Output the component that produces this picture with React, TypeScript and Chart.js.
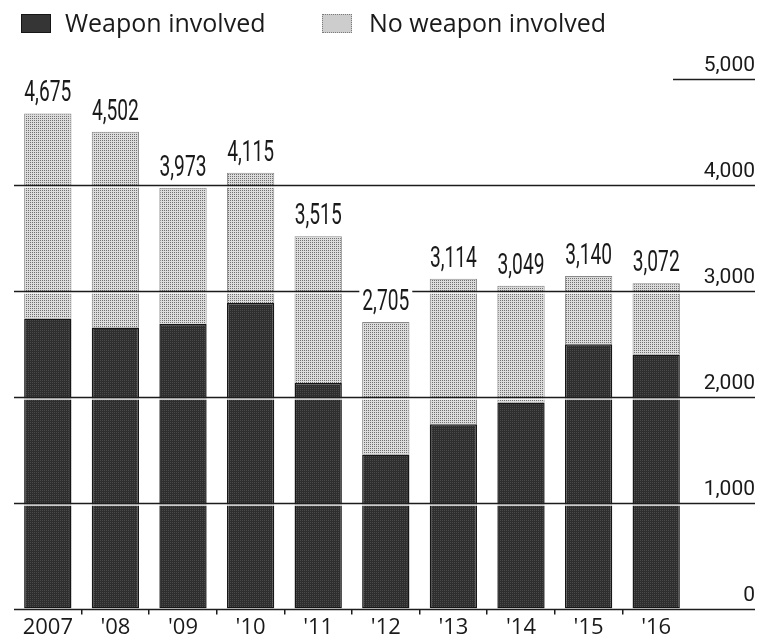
import React, { useEffect, useRef } from 'react';
import { Chart, registerables } from 'chart.js';

Chart.register(...registerables);

const years = ["2007", "'08", "'09", "'10", "'11", "'12", "'13", "'14", "'15", "'16"];
const totals = [4675, 4502, 3973, 4115, 3515, 2705, 3114, 3049, 3140, 3072];
const weaponInvolved = [2740, 2655, 2690, 2885, 2130, 1455, 1740, 1945, 2495, 2400];
const noWeaponInvolved = [1935, 1847, 1283, 1230, 1385, 1250, 1374, 1104, 645, 672];
const yTickValues = [0, 1000, 2000, 3000, 4000, 5000];
const seriesNames = ['Weapon involved', 'No weapon involved'];

function makePattern(base: string, dot: string) {
  const c = document.createElement('canvas');
  c.width = 2;
  c.height = 2;
  const g = c.getContext('2d')!;
  g.fillStyle = base;
  g.fillRect(0, 0, 2, 2);
  g.fillStyle = dot;
  g.fillRect(0, 0, 1, 1);
  return g.createPattern(c, 'repeat') as CanvasPattern;
}

const fmt = (v: number) => v.toLocaleString('en-US');

const overlayPlugin = {
  id: 'overlay',
  afterDatasetsDraw(chart: any) {
    const { ctx, chartArea, scales } = chart;
    const y = scales.y;
    const rightEdge = chart.width - 7;
    const maxV = yTickValues[yTickValues.length - 1];
    ctx.save();
    y.ticks.forEach((t: any) => {
      const py = Math.round(y.getPixelForValue(t.value)) + 0.5;
      let x0 = chartArea.left;
      if (t.value === maxV) x0 = chartArea.right - 17;
      if (t.value !== 0 && t.value !== maxV) {
        ctx.strokeStyle = '#ffffff';
        ctx.lineWidth = 1.6;
        ctx.beginPath();
        ctx.moveTo(chartArea.left, py + 1.5);
        ctx.lineTo(chartArea.right, py + 1.5);
        ctx.stroke();
      }
      ctx.strokeStyle = '#1c1c1c';
      ctx.lineWidth = t.value === 0 ? 1.6 : 1.3;
      ctx.beginPath();
      ctx.moveTo(x0, py);
      ctx.lineTo(rightEdge, py);
      ctx.stroke();
    });

    // total labels
    const meta = chart.getDatasetMeta(1);
    const sx = 0.64;
    ctx.font = '400 30px Roboto';
    ctx.textAlign = 'center';
    ctx.textBaseline = 'alphabetic';
    meta.data.forEach((bar: any, i: number) => {
      const txt = fmt(totals[i]);
      const w = ctx.measureText(txt).width * sx;
      const base = bar.y - 12;
      ctx.fillStyle = '#ffffff';
      ctx.fillRect(bar.x - w / 2 - 3, base - 23, w + 6, 25);
      ctx.save();
      ctx.translate(bar.x, base);
      ctx.scale(sx, 1);
      ctx.fillStyle = '#1a1a1a';
      ctx.fillText(txt, 0, 0);
      ctx.restore();
    });
    ctx.restore();
  },
};

export default function App() {
  const canvasRef = useRef<HTMLCanvasElement | null>(null);

  useEffect(() => {
    const canvas = canvasRef.current!;
    const darkPat = makePattern('#2e2e2e', '#4a4a4a');
    const lightPat = makePattern('#dcdcdc', '#707070');
    const chart = new Chart(canvas, {
      type: 'bar',
      data: {
        labels: years,
        datasets: [
          {
            label: seriesNames[0],
            data: weaponInvolved,
            backgroundColor: darkPat,
            borderColor: '#161616',
            borderWidth: 1.5,
            borderSkipped: false,
            categoryPercentage: 1,
            barPercentage: 0.7,
          },
          {
            label: seriesNames[1],
            data: noWeaponInvolved,
            backgroundColor: lightPat,
            borderColor: '#8a8a8a',
            borderWidth: 1,
            borderSkipped: 'start',
            categoryPercentage: 1,
            barPercentage: 0.7,
          },
        ],
      },
      options: {
        animation: false,
        responsive: true,
        maintainAspectRatio: false,
        layout: { padding: { top: 79, left: 14, right: 7, bottom: 0 } },
        plugins: {
          legend: { display: false },
          tooltip: { enabled: false },
        },
        scales: {
          x: {
            stacked: true,
            offset: true,
            border: { display: false },
            grid: {
              display: true,
              drawOnChartArea: false,
              drawTicks: true,
              tickLength: 6,
              lineWidth: 1.5,
              color: (c: any) =>
                c.index === undefined || c.index === 0 ? 'rgba(0,0,0,0)' : '#1c1c1c',
            },
            ticks: {
              padding: 0,
              color: '#1a1a1a',
              font: { family: '"Open Sans"', size: 22 },
              maxRotation: 0,
              autoSkip: false,
            },
          },
          y: {
            stacked: true,
            position: 'right',
            min: 0,
            max: 5000,
            border: { display: false },
            grid: { display: false, drawTicks: false },
            afterBuildTicks: (scale: any) => {
              scale.ticks = yTickValues.map((v) => ({ value: v }));
            },
            afterFit: (scale: any) => {
              scale.width = 65;
            },
            ticks: {
              crossAlign: 'far',
              labelOffset: -13,
              padding: 0,
              color: '#1a1a1a',
              font: { family: '"Liberation Sans Narrow", Roboto', size: 21 },
              callback: (v: any) => fmt(Number(v)),
            },
          },
        },
      },
      plugins: [overlayPlugin],
    });
    return () => chart.destroy();
  }, []);

  const legendText: React.CSSProperties = {
    position: 'absolute',
    top: 5,
    font: '25px "Open Sans"',
    lineHeight: '34px',
    color: '#1a1a1a',
    whiteSpace: 'nowrap',
  };
  const sq: React.CSSProperties = {
    position: 'absolute',
    top: 14,
    width: 30,
    height: 19,
    boxSizing: 'border-box',
  };

  return (
    <div style={{ position: 'absolute', left: 0, top: 0, width: 762, height: 641, background: '#fff' }}>
      <canvas ref={canvasRef} />
      <div style={{ ...sq, left: 21, background: '#353535', border: '1px solid #161616' }} />
      <div style={{ ...legendText, left: 65 }}>{seriesNames[0]}</div>
      <div style={{ ...sq, left: 322, background: '#cdcdcd', border: '1px dotted #7a7a7a' }} />
      <div style={{ ...legendText, left: 369 }}>{seriesNames[1]}</div>
    </div>
  );
}
